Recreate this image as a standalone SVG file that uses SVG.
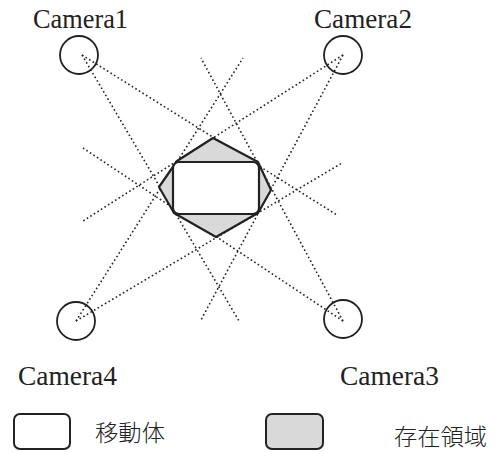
<svg xmlns="http://www.w3.org/2000/svg" width="497" height="452" viewBox="0 0 497 452">
<style>
.cam{fill:none;stroke:#222;stroke-width:1.8}
.lbl{font-family:"Liberation Serif","Times New Roman",serif;font-size:28px;fill:#222}
.jp{font-family:"Noto Sans CJK JP","Noto Sans",sans-serif;font-size:23px;font-weight:300;fill:#222}
.ray{stroke:#222;stroke-width:1.6;stroke-dasharray:1.6 2.6;fill:none}
.region{fill:#d9d9d9;stroke:#222;stroke-width:2.2;stroke-linejoin:round}
.body{fill:#fff;stroke:#222;stroke-width:2.2}
</style>
<rect width="497" height="452" fill="#fff"/>
<g id="connectors">
<line class="ray" x1="82" y1="55" x2="337" y2="215"/>
<line class="ray" x1="82" y1="55" x2="239" y2="321"/>
<line class="ray" x1="343" y1="55" x2="83" y2="221"/>
<line class="ray" x1="343" y1="55" x2="201" y2="320"/>
<line class="ray" x1="343" y1="321" x2="83" y2="148"/>
<line class="ray" x1="343" y1="321" x2="201" y2="58"/>
<line class="ray" x1="76" y1="321" x2="342" y2="163"/>
<line class="ray" x1="76" y1="321" x2="243" y2="58"/>
</g>
<g id="existence-region">
<polygon class="region" points="213,138 258,162 271,190 258,213 216,237 174,213 159,187 177,161"/>
</g>
<g id="moving-body">
<rect class="body" x="173" y="162" width="86" height="52" rx="6"/>
</g>
<g id="camera1">
<circle class="cam" cx="79" cy="55" r="19"/>
<text class="lbl" x="33" y="28" textLength="95" lengthAdjust="spacingAndGlyphs">Camera1</text>
</g>
<g id="camera2">
<circle class="cam" cx="343" cy="55" r="19"/>
<text class="lbl" x="314" y="28" textLength="98" lengthAdjust="spacingAndGlyphs">Camera2</text>
</g>
<g id="camera3">
<circle class="cam" cx="343" cy="319" r="19"/>
<text class="lbl" x="340" y="385" textLength="99" lengthAdjust="spacingAndGlyphs">Camera3</text>
</g>
<g id="camera4">
<circle class="cam" cx="76" cy="321" r="19"/>
<text class="lbl" x="18" y="385" textLength="99" lengthAdjust="spacingAndGlyphs">Camera4</text>
</g>
<g id="legend-body">
<rect x="14" y="414" width="56" height="35" rx="6" fill="#fff" stroke="#222" stroke-width="2"/>
<text class="jp" x="95" y="441" textLength="70" lengthAdjust="spacingAndGlyphs">移動体</text>
</g>
<g id="legend-region">
<rect x="266" y="414" width="57" height="35" rx="6" fill="#d9d9d9" stroke="#222" stroke-width="2"/>
<text class="jp" x="394" y="445" textLength="93" lengthAdjust="spacingAndGlyphs">存在領域</text>
</g>
</svg>
